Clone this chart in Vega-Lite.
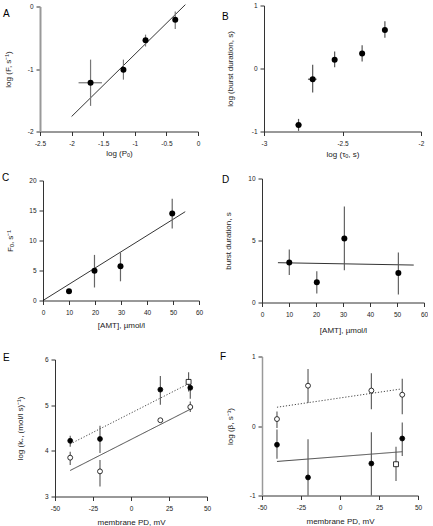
{
 "$schema": "https://vega.github.io/schema/vega-lite/v6.json",
 "padding": {"left": 2, "top": 2.5, "right": 0, "bottom": 0},
 "bounds": "flush",
 "align": "each",
 "columns": 2,
 "spacing": {"row": 47, "column": 55},
 "config": {
  "font": "Liberation Sans",
  "view": {"stroke": null},
  "axis": {"grid": false, "domainColor": "#333", "tickColor": "#333", "tickSize": 4, "labelFontSize": 6.5, "titleFontSize": 8, "labelColor": "#222", "titleColor": "#222", "titleFontWeight": "normal", "labelFont": "Liberation Sans", "titleFont": "Liberation Sans", "labelFlush": false, "labelOverlap": false, "tickCount": 20, "labelExpr": "replace(format(datum.value, '~g'), '\u2212', '-')"},
  "axisX": {"labelPadding": 5, "titleBaseline": "middle"},
  "axisY": {"labelPadding": 3, "titleBaseline": "middle"},
  "title": {"fontSize": 10, "fontWeight": "normal", "font": "Liberation Sans", "anchor": "start", "frame": "group", "offset": 0, "baseline": "alphabetic", "color": "black"}
 },
 "concat": [
    {"width": 158, "height": 126,
     "title": {"text": "A", "dx": -37, "dy": 19.5},
     "layer": [
      {"data": {"values": [{"x": -2.0, "y": -1.76}, {"x": -0.2, "y": 0.03}]},
       "mark": {"type": "line", "color": "black", "strokeWidth": 0.8},
       "encoding": {
        "x": {"field": "x", "type": "quantitative", "scale": {"domain": [-2.5, 0], "nice": false, "zero": false}, "axis": {"values": [-2.5, -2, -1.5, -1, -0.5, 0], "tickCount": 20, "title": "log (Pₒ)", "titleY": 22}},
        "y": {"field": "y", "type": "quantitative", "scale": {"domain": [-2, 0], "nice": false, "zero": false, "range": [126, 1]}, "axis": {"values": [-2, -1, 0], "tickCount": 20, "title": "log (F, s⁻¹)", "titleX": -32, "domainColor": "#999", "domainWidth": 2}}}},
      {"data": {"values": [{"x": -1.70, "lo": -1.59, "hi": -0.85}, {"x": -1.18, "lo": -1.17, "hi": -0.85}, {"x": -0.83, "lo": -0.64, "hi": -0.45}, {"x": -0.36, "lo": -0.36, "hi": -0.08}]},
       "mark": {"type": "rule", "color": "#777", "strokeWidth": 1.2},
       "encoding": {"x": {"field": "x", "type": "quantitative"}, "y": {"field": "lo", "type": "quantitative"}, "y2": {"field": "hi"}}},
      {"data": {"values": [{"y": -1.22, "lo": -1.89, "hi": -1.52}]},
       "mark": {"type": "rule", "color": "#777", "strokeWidth": 1.2},
       "encoding": {"y": {"field": "y", "type": "quantitative"}, "x": {"field": "lo", "type": "quantitative"}, "x2": {"field": "hi"}}},
      {"data": {"values": [{"x": -1.70, "y": -1.22}, {"x": -1.18, "y": -1.01}, {"x": -0.83, "y": -0.54}, {"x": -0.36, "y": -0.21}]},
       "mark": {"type": "circle", "color": "black", "opacity": 1, "size": 36},
       "encoding": {"x": {"field": "x", "type": "quantitative"}, "y": {"field": "y", "type": "quantitative"}}}
     ]},
    {"width": 159, "height": 126,
     "title": {"text": "B", "dx": -40, "dy": 23.5},
     "layer": [
      {"data": {"values": [{"x": -2.78, "lo": -0.99, "hi": -0.80}, {"x": -2.69, "lo": -0.38, "hi": 0.06}, {"x": -2.55, "lo": 0.02, "hi": 0.27}, {"x": -2.375, "lo": 0.11, "hi": 0.37}, {"x": -2.23, "lo": 0.49, "hi": 0.75}]},
       "mark": {"type": "rule", "color": "#555", "strokeWidth": 1.2},
       "encoding": {
        "x": {"field": "x", "type": "quantitative", "scale": {"domain": [-3, -2], "nice": false, "zero": false, "range": [2, 159]}, "axis": {"values": [-3, -2.5, -2], "tickCount": 20, "title": "log (τₒ, s)", "titleY": 23}},
        "y": {"field": "lo", "type": "quantitative", "scale": {"domain": [-1, 1], "nice": false, "zero": false}, "axis": {"values": [-1, 0, 1], "tickCount": 20, "title": "log (burst duration, s)", "titleX": -34, "offset": -2}},
        "y2": {"field": "hi"}}},
      {"data": {"values": [{"y": -0.895, "lo": -2.80, "hi": -2.76}, {"y": -0.17, "lo": -2.72, "hi": -2.665}, {"y": 0.14, "lo": -2.565, "hi": -2.535}]},
       "mark": {"type": "rule", "color": "#555", "strokeWidth": 1.2},
       "encoding": {"y": {"field": "y", "type": "quantitative"}, "x": {"field": "lo", "type": "quantitative"}, "x2": {"field": "hi"}}},
      {"data": {"values": [{"x": -2.78, "y": -0.895}, {"x": -2.69, "y": -0.17}, {"x": -2.55, "y": 0.14}, {"x": -2.375, "y": 0.24}, {"x": -2.23, "y": 0.61}]},
       "mark": {"type": "circle", "color": "black", "opacity": 1, "size": 36},
       "encoding": {"x": {"field": "x", "type": "quantitative"}, "y": {"field": "y", "type": "quantitative"}}}
     ]},
    {"width": 159, "height": 122,
     "title": {"text": "C", "dx": -38, "dy": 9.5},
     "layer": [
      {"data": {"values": [{"x": 0, "y": 0}, {"x": 54.7, "y": 14.8}]},
       "mark": {"type": "line", "color": "black", "strokeWidth": 0.8},
       "encoding": {
        "x": {"field": "x", "type": "quantitative", "scale": {"domain": [0, 60], "nice": false, "range": [3, 159]}, "axis": {"values": [0, 10, 20, 30, 40, 50, 60], "tickCount": 20, "title": "[AMT], µmol/l", "titleY": 25}},
        "y": {"field": "y", "type": "quantitative", "scale": {"domain": [0, 20], "nice": false, "range": [122, 2]}, "axis": {"values": [0, 5, 10, 15, 20], "tickCount": 20, "title": "Fₒ, s⁻¹", "titleX": -33, "offset": -3}}}},
      {"data": {"values": [{"x": 19.8, "lo": 2.17, "hi": 7.6}, {"x": 29.8, "lo": 3.2, "hi": 8.05}, {"x": 49.7, "lo": 12.0, "hi": 16.95}]},
       "mark": {"type": "rule", "color": "#666", "strokeWidth": 1.2},
       "encoding": {"x": {"field": "x", "type": "quantitative"}, "y": {"field": "lo", "type": "quantitative"}, "y2": {"field": "hi"}}},
      {"data": {"values": [{"x": 10, "y": 1.55}, {"x": 19.8, "y": 4.95}, {"x": 29.8, "y": 5.7}, {"x": 49.7, "y": 14.5}]},
       "mark": {"type": "circle", "color": "black", "opacity": 1, "size": 36},
       "encoding": {"x": {"field": "x", "type": "quantitative"}, "y": {"field": "y", "type": "quantitative"}}}
     ]},
    {"width": 162, "height": 124,
     "title": {"text": "D", "dx": -40, "dy": 13.8},
     "layer": [
      {"data": {"values": [{"x": 5.9, "y": 3.21}, {"x": 56.2, "y": 3.02}]},
       "mark": {"type": "line", "color": "#333", "strokeWidth": 1},
       "encoding": {
        "x": {"field": "x", "type": "quantitative", "scale": {"domain": [0, 60], "nice": false}, "axis": {"values": [0, 10, 20, 30, 40, 50, 60], "tickCount": 20, "title": "[AMT], µmol/l", "titleY": 28}},
        "y": {"field": "y", "type": "quantitative", "scale": {"domain": [0, 10], "nice": false}, "axis": {"values": [0, 5, 10], "tickCount": 20, "title": "burst duration, s", "titleX": -34}}}},
      {"data": {"values": [{"x": 10.1, "lo": 2.21, "hi": 4.28}, {"x": 20.3, "lo": 0.73, "hi": 2.53}, {"x": 30.5, "lo": 2.61, "hi": 7.74}, {"x": 50.5, "lo": 0.65, "hi": 4.04}]},
       "mark": {"type": "rule", "color": "#555", "strokeWidth": 1.1},
       "encoding": {"x": {"field": "x", "type": "quantitative"}, "y": {"field": "lo", "type": "quantitative"}, "y2": {"field": "hi"}}},
      {"data": {"values": [{"x": 10.1, "y": 3.23}, {"x": 20.3, "y": 1.64}, {"x": 30.5, "y": 5.17}, {"x": 50.5, "y": 2.37}]},
       "mark": {"type": "circle", "color": "black", "opacity": 1, "size": 36},
       "encoding": {"x": {"field": "x", "type": "quantitative"}, "y": {"field": "y", "type": "quantitative"}}}
     ]},
   {"width": 167, "height": 147,
    "title": {"text": "E", "dx": -37, "dy": 17.8},
    "layer": [
     {"data": {"values": [{"x": -40, "y": 4.15, "k": "d"}, {"x": 37.9, "y": 5.47, "k": "d"}, {"x": -40, "y": 3.57, "k": "s"}, {"x": 39, "y": 4.91, "k": "s"}]},
      "mark": {"type": "line", "color": "#333", "strokeWidth": 0.9},
      "encoding": {
       "x": {"field": "x", "type": "quantitative", "scale": {"domain": [-50, 50], "nice": false, "zero": false, "range": [15, 167]}, "axis": {"values": [-50, -25, 0, 25, 50], "tickCount": 20, "title": "membrane PD, mV", "titleY": 26}},
       "y": {"field": "y", "type": "quantitative", "scale": {"domain": [3, 6], "nice": false, "zero": false, "range": [147, 10]}, "axis": {"values": [3, 4, 5, 6], "tickCount": 20, "title": "log (k₊, (mol/l s)⁻¹)", "titleX": -35, "offset": -15}},
       "detail": {"field": "k"},
       "strokeDash": {"field": "k", "type": "nominal", "scale": {"domain": ["s", "d"], "range": [[1, 0], [1.2, 1.8]]}, "legend": null}}},
     {"data": {"values": [{"x": -40, "lo": 4.09, "hi": 4.33}, {"x": -20.4, "lo": 3.95, "hi": 4.55}, {"x": 19.3, "lo": 5.01, "hi": 5.64}, {"x": 39, "lo": 5.14, "hi": 5.5}, {"x": -40, "lo": 3.69, "hi": 3.98}, {"x": -20.4, "lo": 3.22, "hi": 3.8}, {"x": 39, "lo": 4.85, "hi": 5.08}, {"x": 37.9, "lo": 5.3, "hi": 5.72}]},
      "mark": {"type": "rule", "color": "#555", "strokeWidth": 1.1},
      "encoding": {"x": {"field": "x", "type": "quantitative"}, "y": {"field": "lo", "type": "quantitative"}, "y2": {"field": "hi"}}},
     {"data": {"values": [{"x": -40, "y": 4.22, "s": "f"}, {"x": -20.4, "y": 4.26, "s": "f"}, {"x": 19.3, "y": 5.34, "s": "f"}, {"x": 39, "y": 5.38, "s": "f"}, {"x": -40, "y": 3.85, "s": "o"}, {"x": -20.4, "y": 3.55, "s": "o"}, {"x": 19.3, "y": 4.67, "s": "o"}, {"x": 39, "y": 4.96, "s": "o"}, {"x": 37.9, "y": 5.51, "s": "sq"}]},
      "mark": {"type": "point", "stroke": "black", "strokeWidth": 0.8, "opacity": 1, "fillOpacity": 1, "strokeOpacity": 1, "size": 24},
      "encoding": {"x": {"field": "x", "type": "quantitative"}, "y": {"field": "y", "type": "quantitative"},
       "fill": {"field": "s", "type": "nominal", "scale": {"domain": ["f", "o", "sq"], "range": ["black", "white", "white"]}, "legend": null},
       "shape": {"field": "s", "type": "nominal", "scale": {"domain": ["f", "o", "sq"], "range": ["circle", "circle", "square"]}, "legend": null}}}
    ]},
   {"width": 156, "height": 146,
    "title": {"text": "F", "dx": -42, "dy": 16.2},
    "layer": [
     {"data": {"values": [{"x": -40.4, "y": 0.27, "k": "d"}, {"x": 38.4, "y": 0.53, "k": "d"}, {"x": -40.4, "y": -0.51, "k": "s"}, {"x": 39.9, "y": -0.37, "k": "s"}]},
      "mark": {"type": "line", "color": "#333", "strokeWidth": 0.9},
      "encoding": {
       "x": {"field": "x", "type": "quantitative", "scale": {"domain": [-50, 50], "nice": false, "zero": false}, "axis": {"values": [-50, -25, 0, 25, 50], "tickCount": 20, "title": "membrane PD, mV", "titleY": 25.5}},
       "y": {"field": "y", "type": "quantitative", "scale": {"domain": [-1, 1], "nice": false, "zero": false, "range": [146, 7]}, "axis": {"values": [-1, 0, 1], "tickCount": 20, "title": "log (β, s⁻¹)", "titleX": -32, "domainColor": "#999", "domainWidth": 1.5}},
       "detail": {"field": "k"},
       "strokeDash": {"field": "k", "type": "nominal", "scale": {"domain": ["s", "d"], "range": [[1, 0], [1.2, 1.8]]}, "legend": null}}},
     {"data": {"values": [{"x": -40.4, "lo": -0.03, "hi": 0.21}, {"x": -20.5, "lo": 0.33, "hi": 0.82}, {"x": 20.1, "lo": 0.24, "hi": 0.76}, {"x": 39.9, "lo": 0.17, "hi": 0.68}, {"x": -40.4, "lo": -0.47, "hi": -0.05}, {"x": -20.5, "lo": -1.0, "hi": -0.19}, {"x": 20.1, "lo": -1.0, "hi": -0.09}, {"x": 39.9, "lo": -0.43, "hi": 0.05}, {"x": 35.9, "lo": -0.79, "hi": -0.30}]},
      "mark": {"type": "rule", "color": "#555", "strokeWidth": 1.1},
      "encoding": {"x": {"field": "x", "type": "quantitative"}, "y": {"field": "lo", "type": "quantitative"}, "y2": {"field": "hi"}}},
     {"data": {"values": [{"x": -40.4, "y": 0.10, "s": "o"}, {"x": -20.5, "y": 0.58, "s": "o"}, {"x": 20.1, "y": 0.51, "s": "o"}, {"x": 39.9, "y": 0.45, "s": "o"}, {"x": -40.4, "y": -0.27, "s": "f"}, {"x": -20.5, "y": -0.74, "s": "f"}, {"x": 20.1, "y": -0.54, "s": "f"}, {"x": 39.9, "y": -0.18, "s": "f"}, {"x": 35.9, "y": -0.55, "s": "sq"}]},
      "mark": {"type": "point", "stroke": "black", "strokeWidth": 0.8, "opacity": 1, "fillOpacity": 1, "strokeOpacity": 1, "size": 24},
      "encoding": {"x": {"field": "x", "type": "quantitative"}, "y": {"field": "y", "type": "quantitative"},
       "fill": {"field": "s", "type": "nominal", "scale": {"domain": ["f", "o", "sq"], "range": ["black", "white", "white"]}, "legend": null},
       "shape": {"field": "s", "type": "nominal", "scale": {"domain": ["f", "o", "sq"], "range": ["circle", "circle", "square"]}, "legend": null}}}
    ]}
 ]
}
